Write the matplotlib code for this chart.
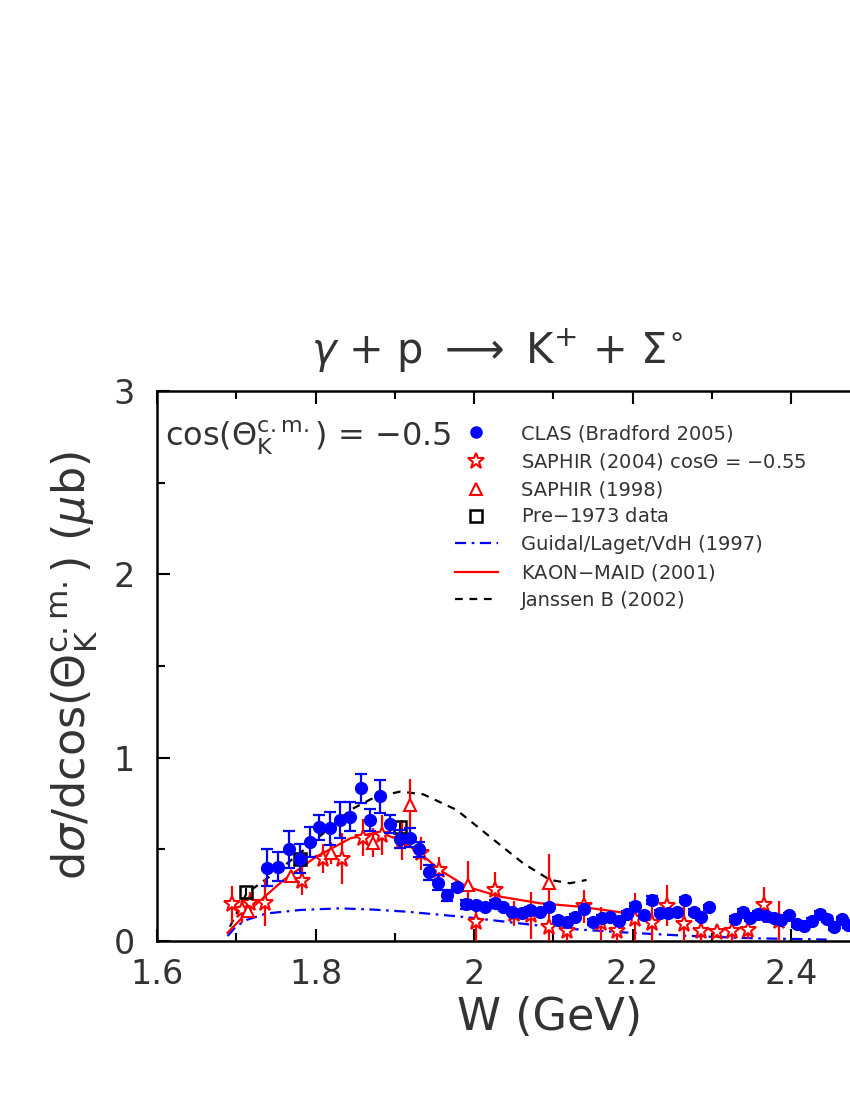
import matplotlib
matplotlib.use("Agg")
import matplotlib.pyplot as plt
from matplotlib.lines import Line2D

plt.rcParams["font.family"] = ["DejaVu Sans"]
plt.rcParams["mathtext.fontset"] = "dejavusans"

# CLAS (Bradford 2005)
clas_w = [1.739, 1.753, 1.766, 1.780, 1.793, 1.805, 1.818, 1.831, 1.844, 1.857,
          1.869, 1.882, 1.894, 1.907, 1.919, 1.931, 1.943, 1.955, 1.966, 1.979,
          1.990, 2.002, 2.014, 2.026, 2.037, 2.048, 2.060, 2.071, 2.083, 2.095,
          2.106, 2.117, 2.128, 2.139, 2.150, 2.161, 2.172, 2.183, 2.193, 2.203,
          2.214, 2.225, 2.235, 2.245, 2.256, 2.266, 2.277, 2.287, 2.297, 2.329,
          2.339, 2.348, 2.358, 2.368, 2.379, 2.387, 2.397, 2.407, 2.416, 2.426,
          2.436, 2.445, 2.454, 2.464, 2.472]
clas_y = [0.40, 0.405, 0.50, 0.45, 0.54, 0.62, 0.615, 0.66, 0.678, 0.833,
          0.66, 0.79, 0.64, 0.556, 0.564, 0.50, 0.375, 0.318, 0.25, 0.293,
          0.20, 0.196, 0.184, 0.209, 0.187, 0.16, 0.154, 0.169, 0.16, 0.187,
          0.115, 0.105, 0.133, 0.173, 0.105, 0.127, 0.129, 0.11, 0.147, 0.193,
          0.142, 0.224, 0.155, 0.151, 0.157, 0.226, 0.157, 0.129, 0.184, 0.12,
          0.158, 0.124, 0.147, 0.136, 0.124, 0.115, 0.14, 0.091, 0.082, 0.109,
          0.147, 0.12, 0.075, 0.118, 0.087]
clas_err = [0.10, 0.08, 0.10, 0.08, 0.08, 0.07, 0.09, 0.10, 0.08, 0.08,
            0.06, 0.09, 0.05, 0.05, 0.05, 0.04, 0.04, 0.04, 0.03, 0.02,
            0.025, 0.015, 0.015, 0.015, 0.015, 0.015, 0.015, 0.015, 0.015, 0.015,
            0.015, 0.015, 0.015, 0.015, 0.015, 0.015, 0.015, 0.015, 0.015, 0.015,
            0.015, 0.02, 0.015, 0.015, 0.015, 0.015, 0.015, 0.015, 0.015, 0.015,
            0.015, 0.015, 0.015, 0.015, 0.02, 0.015, 0.015, 0.015, 0.015, 0.015,
            0.015, 0.015, 0.015, 0.015, 0.015]

# SAPHIR (2004) cos = -0.55
saphir04_w = [1.695, 1.707, 1.717, 1.736, 1.783, 1.809, 1.834, 1.860, 1.884, 1.909,
              1.933, 1.956, 2.003, 2.027, 2.050, 2.072, 2.095, 2.117, 2.139, 2.160,
              2.181, 2.203, 2.225, 2.244, 2.265, 2.286, 2.307, 2.326, 2.346, 2.366,
              2.385]
saphir04_y = [0.20, 0.17, 0.205, 0.21, 0.33, 0.45, 0.45, 0.564, 0.578, 0.55,
              0.48, 0.387, 0.102, 0.278, 0.15, 0.14, 0.078, 0.056, 0.19, 0.096,
              0.056, 0.12, 0.096, 0.193, 0.093, 0.056, 0.047, 0.054, 0.06, 0.196,
              0.11]
saphir04_err = [0.10, 0.07, 0.06, 0.13, 0.08, 0.08, 0.14, 0.10, 0.11, 0.11,
                0.09, 0.07, 0.12, 0.10, 0.07, 0.13, 0.10, 0.08, 0.09, 0.09,
                0.08, 0.14, 0.10, 0.11, 0.13, 0.08, 0.03, 0.08, 0.05, 0.10,
                0.11]

# SAPHIR (1998)
saphir98_w = [1.715, 1.769, 1.820, 1.872, 1.919, 1.992, 2.095]
saphir98_y = [0.164, 0.355, 0.48, 0.536, 0.742, 0.305, 0.315]
saphir98_err = [0.04, 0.03, 0.06, 0.08, 0.14, 0.13, 0.16]

# Pre-1973 data
pre73_w = [1.712, 1.780, 1.907]
pre73_y = [0.27, 0.45, 0.624]
pre73_err = [0.02, 0.02, 0.02]

# model curves
guidal_w = [1.689, 1.700, 1.713, 1.738, 1.780, 1.830, 1.870, 1.915, 1.990,
            2.080, 2.134, 2.197, 2.270, 2.350, 2.445]
guidal_y = [0.027, 0.08, 0.115, 0.15, 0.169, 0.178, 0.172, 0.16, 0.13,
            0.085, 0.062, 0.045, 0.028, 0.015, 0.008]

maid_w = [1.689, 1.717, 1.759, 1.801, 1.844, 1.869, 1.885, 1.907, 1.932,
          1.957, 1.991, 2.033, 2.083, 2.134, 2.188]
maid_y = [0.045, 0.17, 0.33, 0.46, 0.56, 0.585, 0.585, 0.55, 0.478,
          0.387, 0.296, 0.242, 0.206, 0.187, 0.155]

janssen_w = [1.692, 1.713, 1.759, 1.789, 1.844, 1.875, 1.907, 1.936, 1.978,
             2.020, 2.062, 2.096, 2.121, 2.142]
janssen_y = [0.078, 0.26, 0.405, 0.51, 0.715, 0.785, 0.815, 0.80, 0.715,
             0.569, 0.424, 0.333, 0.315, 0.333]

xticks = [1.6, 1.8, 2.0, 2.2, 2.4]
xtick_labels = ["1.6", "1.8", "2", "2.2", "2.4"]

TXT = "#333333"
GUIDAL_DASH = (5, 2.5, 1.2, 2.5)
JANSSEN_DASH = (3.5, 3)

fig = plt.figure(figsize=(8.5, 11), dpi=100)
# axes runs past the right edge of the page, as in the original
ax = fig.add_axes([157 / 850, 159 / 1100, 792.5 / 850, 550 / 1100])

ax.plot(guidal_w, guidal_y, color="blue", lw=1.6, dashes=GUIDAL_DASH)
ax.plot(maid_w, maid_y, color="red", lw=1.6)
ax.plot(janssen_w, janssen_y, color="black", lw=1.6, dashes=JANSSEN_DASH)

ax.errorbar(saphir04_w, saphir04_y, yerr=saphir04_err, fmt="*", color="red",
            mfc="white", mec="red", mew=1.5, ms=12, elinewidth=1.6, capsize=0,
            zorder=3)
ax.errorbar(saphir98_w, saphir98_y, yerr=saphir98_err, fmt="^", color="red",
            mfc="white", mec="red", mew=1.5, ms=9, elinewidth=1.6, capsize=0,
            zorder=3)
ax.errorbar(pre73_w, pre73_y, yerr=pre73_err, fmt="s", color="black",
            mfc="none", mec="black", mew=1.8, ms=9, elinewidth=1.5, capsize=0,
            zorder=4)
ax.errorbar(clas_w, clas_y, yerr=clas_err, fmt="o", color="blue",
            ms=8.5, elinewidth=1.6, capsize=4.5, capthick=1.6, zorder=5)

ax.set_xlim(1.6, 2.6)
ax.set_ylim(0, 3)
ax.set_xticks(xticks)
ax.set_xticklabels(xtick_labels)
ax.set_xticks([1.7, 1.9, 2.1, 2.3, 2.5], minor=True)
ax.set_yticks([0, 1, 2, 3])
ax.set_yticks([0.5, 1.5, 2.5], minor=True)
ax.tick_params(which="both", direction="in", top=True, right=True, width=1.5,
               labelsize=24, labelcolor=TXT)
ax.tick_params(axis="x", pad=12)
ax.tick_params(axis="y", pad=16)
ax.tick_params(which="major", length=9)
ax.tick_params(which="minor", length=6)
for s in ax.spines.values():
    s.set_linewidth(1.8)

ax.set_xlabel("W (GeV)", fontsize=32, color=TXT, labelpad=4)
ax.xaxis.label.set_position(((550 - 157) / 792.5, 0))
ax.set_ylabel(r"d$\sigma$/dcos($\Theta_{\mathrm{K}}^{\mathrm{c.m.}}$) ($\mu$b)",
              fontsize=32, color=TXT, labelpad=10)

fig.text(0.585, 0.682, r"$\gamma$ + p $\longrightarrow$ K$^{+}$ + $\Sigma^{\circ}$",
         fontsize=30, color=TXT, ha="center", va="center")
ax.text(0.01, 0.915, r"cos($\Theta_{\mathrm{K}}^{\mathrm{c.m.}}$) = $-$0.5",
        transform=ax.transAxes, fontsize=23, color=TXT, ha="left", va="center")

handles = [
    Line2D([], [], ls="none", marker="o", color="blue", ms=8),
    Line2D([], [], ls="none", marker="*", mfc="white", mec="red", mew=1.5, ms=12),
    Line2D([], [], ls="none", marker="^", mfc="white", mec="red", mew=1.5, ms=9),
    Line2D([], [], ls="none", marker="s", mfc="none", mec="black", mew=1.8, ms=8),
    Line2D([], [], color="blue", lw=1.6, dashes=GUIDAL_DASH),
    Line2D([], [], color="red", lw=1.6),
    Line2D([], [], color="black", lw=1.6, dashes=JANSSEN_DASH),
]
labels = ["CLAS (Bradford 2005)", r"SAPHIR (2004) cos$\Theta$ = $-$0.55",
          "SAPHIR (1998)", r"Pre$-$1973 data", "Guidal/Laget/VdH (1997)",
          r"KAON$-$MAID (2001)", "Janssen B (2002)"]
leg = fig.legend(handles, labels, loc="upper left",
                 bbox_to_anchor=(455 / 850, 1 - 424 / 1100),
                 frameon=False, fontsize=14, handlelength=2.2, handletextpad=1.2,
                 labelspacing=0.42, borderaxespad=0, borderpad=0)
for t in leg.get_texts():
    t.set_color(TXT)

fig.savefig("out.png", dpi=100)
